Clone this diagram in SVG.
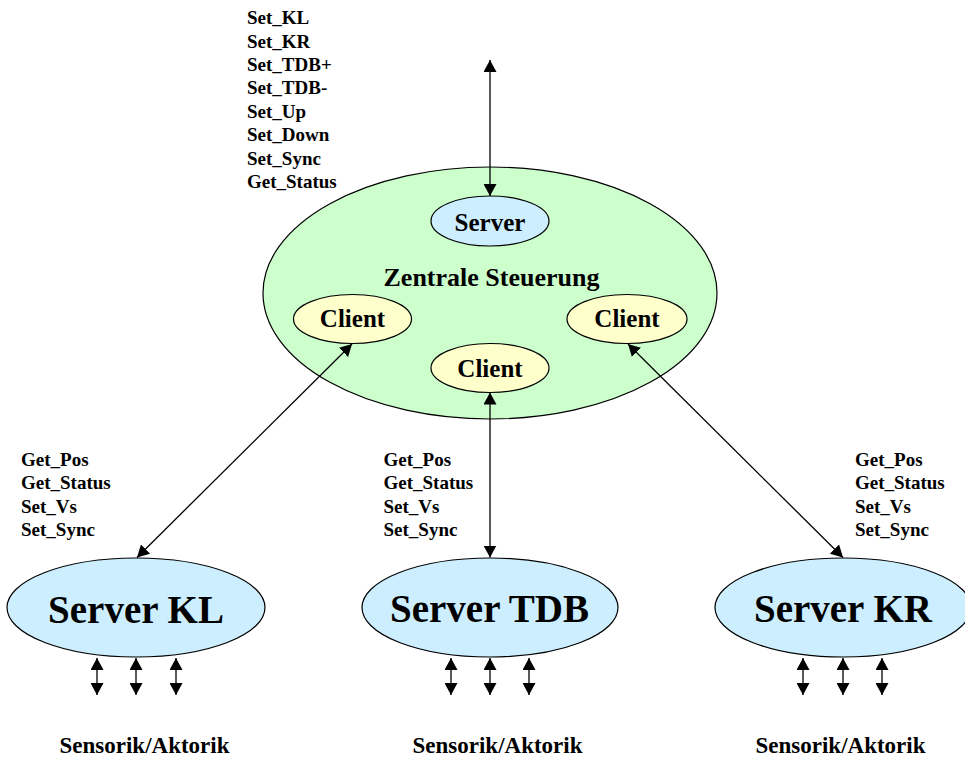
<svg xmlns="http://www.w3.org/2000/svg" width="965" height="758" viewBox="0 0 965 758">
<style>
text{font-family:"Liberation Serif","Times New Roman",serif;font-weight:bold;fill:#000}
.lbl{font-size:19px}
.mid{font-size:25px;text-anchor:middle}
.zs{font-size:26px;text-anchor:middle}
.big{font-size:39px;text-anchor:middle}
.sa{font-size:23px;text-anchor:middle}
.shape{stroke:#000;stroke-width:1.2}
.green{fill:#ccffcc}
.blue{fill:#cceeff}
.yellow{fill:#ffffcc}
.con{stroke:#000;stroke-width:1.3;fill:none;marker-start:url(#ah);marker-end:url(#ah)}
</style>
<defs>
<marker id="ah" markerUnits="userSpaceOnUse" markerWidth="12" markerHeight="13" refX="12" refY="6.5" orient="auto-start-reverse">
<path d="M0,0 L12,6.5 L0,13 z" fill="#000"/>
</marker>
</defs>
<g id="top-labels">
<text class="lbl" x="247" y="24">Set_KL</text>
<text class="lbl" x="247" y="47.5">Set_KR</text>
<text class="lbl" x="247" y="71">Set_TDB+</text>
<text class="lbl" x="247" y="94.4">Set_TDB-</text>
<text class="lbl" x="247" y="117.8">Set_Up</text>
<text class="lbl" x="247" y="141.3">Set_Down</text>
<text class="lbl" x="247" y="164.7">Set_Sync</text>
<text class="lbl" x="247" y="188.2">Get_Status</text>
</g>
<g id="zentrale">
<ellipse class="shape green" cx="490" cy="293" rx="227" ry="126"/>
<text class="zs" x="491.5" y="286">Zentrale Steuerung</text>
</g>
<g id="server-top">
<ellipse class="shape blue" cx="490" cy="221" rx="59" ry="25"/>
<text class="mid" x="490" y="230.5">Server</text>
</g>
<g id="client-left">
<ellipse class="shape yellow" cx="352.5" cy="319" rx="59" ry="24.5"/>
<text class="mid" x="352.5" y="327">Client</text>
</g>
<g id="client-right">
<ellipse class="shape yellow" cx="627" cy="319" rx="60" ry="24.5"/>
<text class="mid" x="627" y="327">Client</text>
</g>
<g id="client-mid">
<ellipse class="shape yellow" cx="490" cy="368" rx="59" ry="24.5"/>
<text class="mid" x="490" y="376.5">Client</text>
</g>
<g id="server-kl">
<ellipse class="shape blue" cx="136" cy="607.5" rx="129" ry="49.5"/>
<text class="big" x="136" y="622.5">Server KL</text>
</g>
<g id="server-tdb">
<ellipse class="shape blue" cx="490" cy="607.5" rx="128" ry="49.5"/>
<text class="big" x="489.5" y="622">Server TDB</text>
</g>
<g id="server-kr">
<ellipse class="shape blue" cx="843" cy="607.5" rx="128" ry="49.5"/>
<text class="big" x="843" y="622">Server KR</text>
</g>
<g id="labels-kl">
<text class="lbl" x="21" y="466">Get_Pos</text>
<text class="lbl" x="21" y="489.4">Get_Status</text>
<text class="lbl" x="21" y="512.8">Set_Vs</text>
<text class="lbl" x="21" y="536.2">Set_Sync</text>
</g>
<g id="labels-tdb">
<text class="lbl" x="383.5" y="466">Get_Pos</text>
<text class="lbl" x="383.5" y="489.4">Get_Status</text>
<text class="lbl" x="383.5" y="512.8">Set_Vs</text>
<text class="lbl" x="383.5" y="536.2">Set_Sync</text>
</g>
<g id="labels-kr">
<text class="lbl" x="855" y="466">Get_Pos</text>
<text class="lbl" x="855" y="489.4">Get_Status</text>
<text class="lbl" x="855" y="512.8">Set_Vs</text>
<text class="lbl" x="855" y="536.2">Set_Sync</text>
</g>
<g id="io-labels">
<text class="sa" x="144.5" y="753">Sensorik/Aktorik</text>
<text class="sa" x="497.5" y="753">Sensorik/Aktorik</text>
<text class="sa" x="840.5" y="753">Sensorik/Aktorik</text>
</g>
<g id="connectors">
<line class="con" x1="490" y1="60" x2="490" y2="196"/>
<line class="con" x1="490" y1="392.5" x2="490" y2="557.5"/>
<line class="con" x1="352" y1="344" x2="137" y2="557.5"/>
<line class="con" x1="628" y1="344" x2="843" y2="557.5"/>
<line class="con" x1="97" y1="658" x2="97" y2="695"/>
<line class="con" x1="136" y1="658" x2="136" y2="695"/>
<line class="con" x1="176" y1="658" x2="176" y2="695"/>
<line class="con" x1="451" y1="658" x2="451" y2="695"/>
<line class="con" x1="490" y1="658" x2="490" y2="695"/>
<line class="con" x1="529" y1="658" x2="529" y2="695"/>
<line class="con" x1="803" y1="658" x2="803" y2="695"/>
<line class="con" x1="843" y1="658" x2="843" y2="695"/>
<line class="con" x1="882" y1="658" x2="882" y2="695"/>
</g>
</svg>
